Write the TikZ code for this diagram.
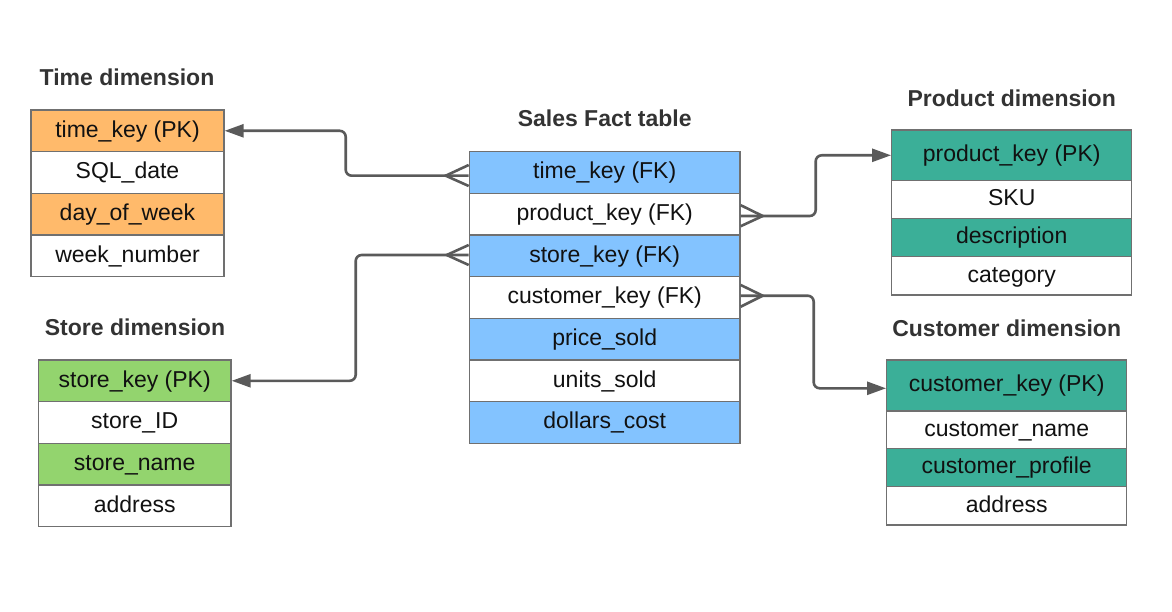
\documentclass[tikz,border=0pt]{standalone}
\usepackage{fontspec}
\setmainfont{Liberation Sans}
\usetikzlibrary{arrows.meta,calc}
\definecolor{orng}{HTML}{FFBA6B}
\definecolor{bluec}{HTML}{83C3FF}
\definecolor{grn}{HTML}{93D46E}
\definecolor{teal}{HTML}{3BAF98}
\definecolor{cellline}{HTML}{707070}
\definecolor{linkc}{HTML}{5A5A5A}
\definecolor{txt}{HTML}{111111}
\definecolor{ttl}{HTML}{333333}
\begin{document}
\begin{tikzpicture}[x=1pt,y=-1pt,
  cell/.style={draw=cellline, line width=1.3pt, inner sep=0pt, fill=white,
    font=\fontsize{23}{27}\selectfont, text=txt, text height=16.5pt, text depth=3.6pt},
  ttlnode/.style={font=\fontsize{23}{27}\selectfont\bfseries, text=ttl, inner sep=0pt},
  link/.style={draw=linkc, line width=2.6pt, rounded corners=6pt, -{Triangle[length=19pt,width=13pt]}},
  crow/.style={draw=linkc, line width=2.6pt, line join=miter}
]
\useasboundingbox (0,0) rectangle (1172,612);

% Time dimension
\node[ttlnode] (tt) at (127,77) {Time dimension};
\begin{scope}[every node/.style={cell, minimum width=193pt, minimum height=41.67pt}]
\node[fill=orng] (t1) at (127.5,130.8) {time\_key (PK)};
\node (t2) at (127.5,172.5) {SQL\_date};
\node[fill=orng] (t3) at (127.5,214.2) {day\_of\_week};
\node (t4) at (127.5,255.8) {week\_number};
\end{scope}

% Store dimension
\node[ttlnode] (st) at (135,327) {Store dimension};
\begin{scope}[every node/.style={cell, minimum width=192.7pt, minimum height=41.67pt}]
\node[fill=grn] (s1) at (134.7,380.8) {store\_key (PK)};
\node (s2) at (134.7,422.5) {store\_ID};
\node[fill=grn] (s3) at (134.7,464.2) {store\_name};
\node (s4) at (134.7,505.8) {address};
\end{scope}

% Sales fact table
\node[ttlnode] (ft) at (604.7,118) {Sales Fact table};
\begin{scope}[every node/.style={cell, minimum width=270.7pt, minimum height=41.67pt}]
\node[fill=bluec] (f1) at (604.7,172.5) {time\_key (FK)};
\node (f2) at (604.7,214.2) {product\_key (FK)};
\node[fill=bluec] (f3) at (604.7,255.8) {store\_key (FK)};
\node (f4) at (604.7,297.5) {customer\_key (FK)};
\node[fill=bluec] (f5) at (604.7,339.2) {price\_sold};
\node (f6) at (604.7,380.8) {units\_sold};
\node[fill=bluec] (f7) at (604.7,422.5) {dollars\_cost};
\end{scope}

% Product dimension
\node[ttlnode] (pt) at (1011.7,98) {Product dimension};
\begin{scope}[every node/.style={cell, minimum width=240pt}]
\node[fill=teal, minimum height=50.7pt] (p1) at (1011.7,155.3) {product\_key (PK)};
\node[minimum height=37.6pt] (p2) at (1011.7,199.5) {SKU};
\node[fill=teal, minimum height=38.4pt] (p3) at (1011.7,237.5) {description};
\node[minimum height=38.3pt] (p4) at (1011.7,275.8) {category};
\end{scope}

% Customer dimension
\node[ttlnode] (ct) at (1006.7,328) {Customer dimension};
\begin{scope}[every node/.style={cell, minimum width=240pt}]
\node[fill=teal, minimum height=51pt] (c1) at (1006.7,385.5) {customer\_key (PK)};
\node[minimum height=37.3pt] (c2) at (1006.7,429.7) {customer\_name};
\node[fill=teal, minimum height=38.4pt] (c3) at (1006.7,467.5) {customer\_profile};
\node[minimum height=38.3pt] (c4) at (1006.7,505.8) {address};
\end{scope}

% Connectors
% time
\draw[link] ($(f1.west)+(0,3.2)$) -- ++(-123,0) |- (t1.east);
\draw[crow] ($(f1.west)+(0,-7.5)$) -- ($(f1.west)+(-23,3.2)$) -- ($(f1.west)+(0,13.5)$);
% product
\draw[link] ($(f2.east)+(0,1.8)$) -- ++(75,0) |- (p1.west);
\draw[crow] ($(f2.east)+(0,-9)$) -- ($(f2.east)+(22,1.8)$) -- ($(f2.east)+(0,12)$);
% store
\draw[link] ($(f3.west)+(0,-0.8)$) -- ++(-113,0) |- (s1.east);
\draw[crow] ($(f3.west)+(0,-10.8)$) -- ($(f3.west)+(-22,-0.8)$) -- ($(f3.west)+(0,9.2)$);
% customer
\coordinate (cin) at ($(c1.west)+(0,2.8)$);
\draw[link] ($(f4.east)+(0,-1.8)$) -- ++(73,0) |- (cin);
\draw[crow] ($(f4.east)+(0,-12.5)$) -- ($(f4.east)+(22,-1.8)$) -- ($(f4.east)+(0,9.2)$);
\end{tikzpicture}
\end{document}
